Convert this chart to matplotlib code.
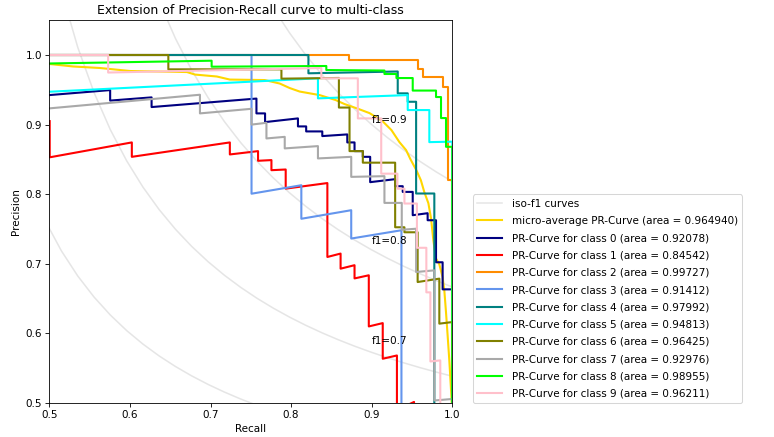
import matplotlib

matplotlib.use("Agg")
import matplotlib.pyplot as plt
import numpy as np

# iso-f1 reference levels
f_scores = [0.5, 0.6, 0.7, 0.8, 0.9]

micro_area = 0.964940
micro_recall = [0.5, 0.5297, 0.5631, 0.6002, 0.6708, 0.6807, 0.7079, 0.724, 0.7673, 0.7859,
                0.7983, 0.8106, 0.8354, 0.8552, 0.8663, 0.8824, 0.8973, 0.9134, 0.9245, 0.9344,
                0.9427, 0.948, 0.9554, 0.961, 0.9653, 0.9703, 0.9736, 0.9765, 0.9796, 0.9839,
                0.988, 0.9901, 0.9922, 0.9942, 0.9963, 0.9981, 0.9994, 1.0]
micro_precision = [0.9871, 0.9835, 0.9813, 0.977, 0.9755, 0.9719, 0.9691, 0.9647, 0.964, 0.959,
                   0.9525, 0.9475, 0.9424, 0.9353, 0.9295, 0.923, 0.9165, 0.905, 0.8921, 0.8748,
                   0.8633, 0.8504, 0.8345, 0.8201, 0.8029, 0.7871, 0.7655, 0.7338, 0.7079, 0.6993,
                   0.6806, 0.6619, 0.6302, 0.5971, 0.5612, 0.5252, 0.4993, 0.1]

class_areas = [0.92078, 0.84542, 0.99727, 0.91412, 0.97992, 0.94813, 0.96425, 0.92976, 0.98955, 0.96211]
colors = ["navy", "red", "darkorange", "cornflowerblue", "teal", "aqua", "olive", "darkgray", "lime", "pink"]

recall_0 = [0.5, 0.5755, 0.5755, 0.6269, 0.6269, 0.757, 0.757, 0.7677, 0.7677, 0.8085, 0.8085,
            0.8187, 0.8187, 0.8387, 0.8387, 0.8697, 0.8697, 0.8787, 0.8787, 0.889, 0.889, 0.8981,
            0.8981, 0.9291, 0.9291, 0.9385, 0.9385, 0.9509, 0.9509, 0.9694, 0.9694, 0.9798, 0.9798,
            0.988, 0.988, 1.0, 1.0]
precision_0 = [0.9424, 0.9496, 0.9345, 0.9391, 0.9252, 0.9374, 0.9161, 0.9161, 0.9036, 0.9089, 0.8974,
               0.8974, 0.8902, 0.8902, 0.8835, 0.8859, 0.8744, 0.8744, 0.8619, 0.8619, 0.8537, 0.8537,
               0.8173, 0.8216, 0.8115, 0.8115, 0.8033, 0.8033, 0.7698, 0.7727, 0.7626, 0.7626, 0.7022,
               0.7022, 0.6633, 0.6633, 0.3]

recall_1 = [0.5005, 0.5005, 0.6024, 0.6024, 0.724, 0.724, 0.759, 0.759, 0.7756, 0.7756, 0.7933,
            0.7933, 0.845, 0.845, 0.8614, 0.8614, 0.8787, 0.8787, 0.8964, 0.8964, 0.9137, 0.9137,
            0.9313, 0.9313, 0.9525, 0.9525]
precision_1 = [0.905, 0.853, 0.8744, 0.8537, 0.8744, 0.8571, 0.8619, 0.848, 0.849, 0.8345, 0.8355,
               0.808, 0.816, 0.7098, 0.7147, 0.693, 0.698, 0.679, 0.6835, 0.61, 0.6148, 0.5636,
               0.5683, 0.49, 0.5015, 0.3]

recall_2 = [0.5, 0.8717, 0.8717, 0.957, 0.957, 0.9632, 0.9632, 0.988, 0.988, 0.9942, 0.9942, 1.0, 1.0]
precision_2 = [1.0, 1.0, 0.9935, 0.9935, 0.9799, 0.9799, 0.969, 0.969, 0.954, 0.954, 0.8201, 0.8201, 0.3]

recall_3 = [0.5, 0.7509, 0.7509, 0.8127, 0.8127, 0.8746, 0.8746, 0.9369, 0.9369]
precision_3 = [1.0, 1.0, 0.8007, 0.8129, 0.7647, 0.777, 0.7363, 0.7482, 0.3]

recall_4 = [0.5, 0.8215, 0.8215, 0.9323, 0.9323, 0.9447, 0.9447, 0.9551, 0.9551, 0.9777, 0.9777]
precision_4 = [1.0, 1.0, 0.9737, 0.9763, 0.9449, 0.9449, 0.9328, 0.9328, 0.801, 0.801, 0.3]

recall_5 = [0.5, 0.8333, 0.8333, 0.9447, 0.9447, 0.9715, 0.9715, 1.0, 1.0]
precision_5 = [0.9472, 0.9665, 0.9377, 0.9424, 0.9209, 0.9209, 0.8748, 0.8755, 0.3]

recall_6 = [0.5, 0.6477, 0.6477, 0.788, 0.788, 0.8593, 0.8593, 0.8725, 0.8725, 0.889, 0.889,
            0.9291, 0.9291, 0.9406, 0.9406, 0.957, 0.957, 0.9839, 0.9839, 1.0, 1.0]
precision_6 = [1.0, 1.0, 0.9794, 0.9794, 0.966, 0.967, 0.9245, 0.9245, 0.8619, 0.8619, 0.8453,
               0.8453, 0.7525, 0.7525, 0.7453, 0.7453, 0.6738, 0.6787, 0.614, 0.6163, 0.3]

recall_7 = [0.5, 0.6869, 0.6869, 0.7509, 0.7509, 0.7694, 0.7694, 0.7921, 0.7921, 0.8333, 0.8333,
            0.8746, 0.8746, 0.9158, 0.9158, 0.9373, 0.9373, 0.9551, 0.9551, 0.9777, 0.9777, 1.0, 1.0]
precision_7 = [0.9233, 0.9429, 0.9161, 0.9227, 0.9, 0.9026, 0.8801, 0.8824, 0.8658, 0.8691, 0.8514,
               0.8537, 0.8249, 0.8259, 0.7875, 0.7875, 0.7489, 0.7504, 0.6882, 0.6906, 0.5036, 0.5058, 0.3]

recall_8 = [0.5, 0.7014, 0.7014, 0.8437, 0.8437, 0.9158, 0.9158, 0.9307, 0.9307, 0.9509, 0.9509,
            0.9798, 0.9798, 0.986, 0.986, 0.9922, 0.9922, 1.0, 1.0]
precision_8 = [0.9878, 0.9918, 0.9832, 0.9842, 0.9784, 0.9777, 0.9727, 0.9727, 0.9669, 0.9669, 0.9489,
               0.9489, 0.9396, 0.9396, 0.9094, 0.9094, 0.8681, 0.8681, 0.3]

recall_9 = [0.5, 0.573, 0.573, 0.8375, 0.8375, 0.8828, 0.8828, 0.9118, 0.9118, 0.9319, 0.9319,
            0.9406, 0.9406, 0.9561, 0.9561, 0.9678, 0.9678, 0.9728, 0.9728, 0.9851, 0.9851]
precision_9 = [1.0, 1.0, 0.9748, 0.9813, 0.9665, 0.9665, 0.9089, 0.9089, 0.8295, 0.8295, 0.8079,
               0.8079, 0.7866, 0.7866, 0.723, 0.723, 0.659, 0.659, 0.5597, 0.5612, 0.3]

recalls = [recall_0, recall_1, recall_2, recall_3, recall_4, recall_5, recall_6, recall_7, recall_8, recall_9]
precisions = [precision_0, precision_1, precision_2, precision_3, precision_4,
              precision_5, precision_6, precision_7, precision_8, precision_9]


fig = plt.figure(figsize=(10.32, 437 / 75), dpi=75)
ax = fig.add_axes([49.3 / 774, 34 / 437, 403 / 774, 382.8 / 437])

lines = []
labels = []

for f_score in f_scores:
    x = np.linspace(0.01, 1)
    y = f_score * x / (2 * x - f_score)
    (l,) = ax.plot(x[y >= 0], y[y >= 0], color="gray", alpha=0.2)
    ax.annotate("f1={0:0.1f}".format(f_score), xy=(0.9, y[45] + 0.02))
lines.append(l)
labels.append("iso-f1 curves")

(l,) = ax.plot(micro_recall, micro_precision, color="gold", lw=2)
lines.append(l)
labels.append("micro-average PR-Curve (area = {0:0.6f})".format(micro_area))

for i, color in enumerate(colors):
    (l,) = ax.plot(recalls[i], precisions[i], color=color, lw=2)
    lines.append(l)
    labels.append("PR-Curve for class {0} (area = {1:0.5f})".format(i, class_areas[i]))

ax.set_xlim([0.5, 1.0])
ax.set_ylim([0.5, 1.05])
ax.set_xlabel("Recall")
ax.set_ylabel("Precision")
ax.set_title("Extension of Precision-Recall curve to multi-class")
ax.legend(lines, labels, loc="lower left", bbox_to_anchor=(1.052, 0), borderaxespad=0,
          labelspacing=0.7, handlelength=2.4, handletextpad=0.9)

fig.savefig("out.png", dpi=75)
